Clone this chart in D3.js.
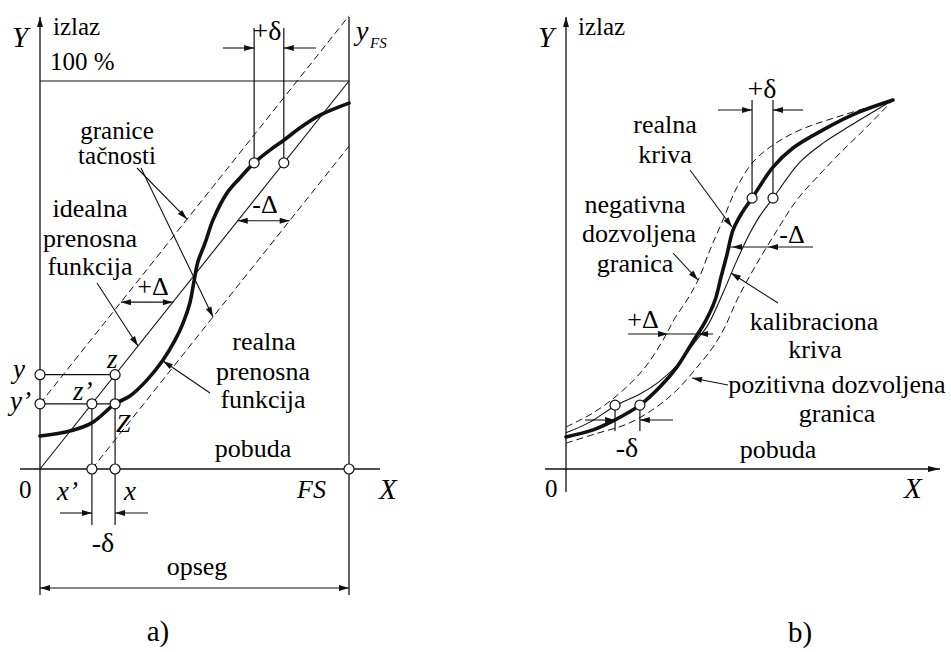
<!DOCTYPE html>
<html>
<head>
<meta charset="utf-8">
<script src="https://cdn.jsdelivr.net/npm/d3@7"></script>
</head>
<body style="margin:0">
<svg id="chart" width="951" height="652"></svg>
<script>
// ---------- Panel a: values in % of full scale (FS) ----------
const realCurveA = [
  [0, 8.5], [9.7, 9.8], [16.8, 11.9], [24.3, 16.8], [29.1, 18.8], [34.6, 22.9],
  [39.8, 28.1], [43.7, 33.2], [46.3, 37.6], [48.5, 42.8], [49.8, 48.2], [51.1, 53.4],
  [53.4, 58.2], [56.0, 64.2], [60.5, 71.1], [64.7, 75.0], [69.3, 78.9], [74.4, 82.2],
  [79.0, 84.8], [84.1, 87.9], [90.6, 91.2], [100, 94.3]
];
const idealLineA = [[0, 0], [100, 100]];
const accuracyBand = 16.8;          // +/- Delta band around the ideal line
const inputX = 24.3, inputXPrime = 16.8;   // x and x'
const outHigh = 78.9;               // output level of the +delta pair
const xHighReal = 69.3, xHighIdeal = 78.9;
const levelMinusDelta = 64, levelPlusDelta = 43;

// ---------- Panel b: values in % ----------
const realCurveB = [
  [0, 8.7], [8.3, 10.6], [15.0, 13.3], [22.6, 17.3], [28.7, 22.2], [33.9, 27.6],
  [38.5, 34.1], [42.5, 39.8], [45.6, 45.8], [47.4, 52.0], [49.2, 58.0], [51.1, 64.8],
  [53.8, 69.4], [56.9, 73.4], [63.3, 81.8], [69.4, 87.0], [78.6, 91.9], [89.0, 96.5], [100, 100]
];
const calibCurveB = [
  [0, 9.8], [7.3, 12.7], [15.0, 17.1], [22.6, 20.3], [28.7, 23.8], [34.9, 29.0],
  [39.4, 34.4], [43.4, 39.0], [48.0, 47.7], [52.3, 56.6], [56.3, 64.0], [59.3, 68.6],
  [63.3, 73.4], [71.6, 83.2], [78.6, 88.3], [86.9, 93.0], [100, 100]
];
const negLimitB = [
  [0, 11.4], [8.3, 15.2], [16.5, 20.6], [23.5, 26.8], [27.8, 32.2], [30.9, 36.9],
  [33.3, 40.9], [37.0, 45.8], [40.4, 51.2], [44.0, 59.3], [48.0, 67.5], [52.3, 76.4],
  [57.2, 83.2], [63.3, 87.8], [71.6, 91.9], [84.7, 95.9], [100, 100]
];
const posLimitB = [
  [0, 7.0], [8.9, 9.5], [18.7, 12.2], [27.2, 16.5], [33.9, 21.4], [40.1, 27.6],
  [45.0, 33.1], [48.6, 38.5], [52.3, 45.8], [57.2, 53.9], [63.3, 62.9], [70.6, 72.9],
  [76.8, 79.1], [83.8, 85.6], [92.0, 92.7], [100, 100]
];
const lowPairB = [[15.0, 17.3], [22.6, 17.3]];
const highPairB = [[56.9, 73.4], [63.3, 73.4]];

const svg = d3.select("#chart");
const K = "#111";

// scales
const xa = d3.scaleLinear([0, 100], [40, 349]);
const ya = d3.scaleLinear([0, 100], [469, 81]);
const xb = d3.scaleLinear([0, 100], [566, 893]);
const yb = d3.scaleLinear([0, 100], [469, 100]);

function line(g, x1, y1, x2, y2, w = 1.2) {
  return g.append("line").attr("x1", x1).attr("y1", y1).attr("x2", x2).attr("y2", y2)
    .attr("stroke", K).attr("stroke-width", w);
}
function head(g, x, y, deg, len = 10, half = 3) {
  g.append("path").attr("d", `M0,0L${-len},${-half}L${-len},${half}Z`)
    .attr("fill", K).attr("transform", `translate(${x},${y}) rotate(${deg})`);
}
function arrow(g, x1, y1, x2, y2) {
  line(g, x1, y1, x2, y2, 1.1);
  head(g, x2, y2, Math.atan2(y2 - y1, x2 - x1) * 180 / Math.PI);
}
// labels go straight on the svg; centred ones are shifted by their measured width
function label(x, y, t, size = 26, centred = true, italic = false) {
  const e = svg.append("text").attr("x", x).attr("y", y)
    .attr("font-family", "Liberation Serif").attr("font-size", size);
  if (italic) e.attr("font-style", "italic");
  e.text(t);
  if (centred) e.attr("x", x - e.node().getComputedTextLength() / 2);
  return e;
}
function dot(g, x, y) {
  g.append("circle").attr("cx", x).attr("cy", y).attr("r", 5)
    .attr("fill", "#fff").attr("stroke", K).attr("stroke-width", 1.2);
}

// ================= Panel a =================
const ga = svg.append("g");
const lineA = d3.line().x(d => xa(d[0])).y(d => ya(d[1]));

// frame and axes
line(ga, xa(0), 17, xa(0), 595, 1.3);
head(ga, xa(0), 17, -90, 10, 3);
line(ga, 20, ya(0), 380, ya(0), 1.3);
line(ga, xa(100), 17, xa(100), 595, 1.3);
line(ga, xa(0), ya(100), xa(100), ya(100), 1.2);

// ideal line and accuracy band
ga.append("path").attr("d", lineA(idealLineA)).attr("fill", "none").attr("stroke", K).attr("stroke-width", 1.1);
ga.append("path").attr("d", lineA([[0, accuracyBand], [100, 100 + accuracyBand]]))
  .attr("fill", "none").attr("stroke", K).attr("stroke-width", 1).attr("stroke-dasharray", "7,4");
ga.append("path").attr("d", lineA([[accuracyBand, 0], [100, 100 - accuracyBand]]))
  .attr("fill", "none").attr("stroke", K).attr("stroke-width", 1).attr("stroke-dasharray", "7,4");

// real transfer function
ga.append("path").attr("d", lineA.curve(d3.curveCatmullRom)(realCurveA))
  .attr("fill", "none").attr("stroke", K).attr("stroke-width", 3.6).attr("stroke-linecap", "round");
lineA.curve(d3.curveLinear);

// construction lines for y, y', z, z', Z
line(ga, xa(0), ya(inputX), xa(inputX), ya(inputX));
line(ga, xa(0), ya(inputXPrime), xa(inputX), ya(inputXPrime));
line(ga, xa(inputXPrime), ya(inputXPrime), xa(inputXPrime), 525);
line(ga, xa(inputX), ya(inputX), xa(inputX), 525);
arrow(ga, 60, 513, xa(inputXPrime), 513);
arrow(ga, 148, 513, xa(inputX), 513);

// +delta pair at the top
line(ga, xa(xHighReal), ya(outHigh), xa(xHighReal), 28);
line(ga, xa(xHighIdeal), ya(outHigh), xa(xHighIdeal), 28);
arrow(ga, 223, 48, xa(xHighReal), 48);
arrow(ga, 316, 48, xa(xHighIdeal), 48);

// -Delta and +Delta dimensions
{
  const y1 = ya(levelMinusDelta);
  line(ga, xa(levelMinusDelta), y1, xa(levelMinusDelta + accuracyBand), y1, 1.1);
  head(ga, xa(levelMinusDelta), y1, 180);
  head(ga, xa(levelMinusDelta + accuracyBand), y1, 0);
  const y2 = ya(levelPlusDelta);
  line(ga, xa(levelPlusDelta - accuracyBand), y2, xa(levelPlusDelta), y2, 1.1);
  head(ga, xa(levelPlusDelta - accuracyBand), y2, 180);
  head(ga, xa(levelPlusDelta), y2, 0);
}

// range dimension
line(ga, xa(0), 588, xa(100), 588, 1.1);
head(ga, xa(0), 588, 180);
head(ga, xa(100), 588, 0);

// leader lines
arrow(ga, 137, 168, xa(47.6), ya(47.6 + accuracyBand));
arrow(ga, 141, 168, xa(56), ya(56 - accuracyBand));
arrow(ga, 97, 283, xa(31.7), ya(31.7));
arrow(ga, 210, 393, 163, 361);

// points
[[0, inputX], [0, inputXPrime], [inputX, inputX], [inputXPrime, inputXPrime], [inputX, inputXPrime],
 [inputXPrime, 0], [inputX, 0], [100, 0], [xHighReal, outHigh], [xHighIdeal, outHigh]]
  .forEach(d => dot(ga, xa(d[0]), ya(d[1])));

// ================= Panel b =================
const gb = svg.append("g");
const lineB = d3.line().x(d => xb(d[0])).y(d => yb(d[1])).curve(d3.curveCatmullRom);

line(gb, xb(0), 17, xb(0), 492, 1.3);
head(gb, xb(0), 17, -90);
line(gb, 545, yb(0), 940, yb(0), 1.3);
head(gb, 940, yb(0), 0, 12, 3);

[negLimitB, posLimitB].forEach(c =>
  gb.append("path").attr("d", lineB(c)).attr("fill", "none").attr("stroke", K)
    .attr("stroke-width", 1).attr("stroke-dasharray", "7,4"));
gb.append("path").attr("d", lineB(calibCurveB)).attr("fill", "none").attr("stroke", K).attr("stroke-width", 1.1);
gb.append("path").attr("d", lineB(realCurveB)).attr("fill", "none").attr("stroke", K)
  .attr("stroke-width", 3.6).attr("stroke-linecap", "round");

// delta pairs
lowPairB.forEach(d => line(gb, xb(d[0]), yb(d[1]), xb(d[0]), 431));
highPairB.forEach(d => line(gb, xb(d[0]), yb(d[1]), xb(d[0]), 100));
arrow(gb, 585, 420, xb(lowPairB[0][0]), 420);
arrow(gb, 673, 420, xb(lowPairB[1][0]), 420);
arrow(gb, 718, 110, xb(highPairB[0][0]), 110);
arrow(gb, 803, 110, xb(highPairB[1][0]), 110);

// +Delta / -Delta marks
line(gb, 628, 334, 713, 334, 1.1);
head(gb, 668, 334, 0);
head(gb, 698, 334, 180);
line(gb, 730, 247, 813, 247, 1.1);
head(gb, 732, 247, 180);
head(gb, 768, 247, 180);

// leaders
arrow(gb, 690, 170, 732, 227);
arrow(gb, 673, 253, 698, 280);
arrow(gb, 778, 303, 731, 273);
arrow(gb, 728, 385, 692, 378);

[...lowPairB, ...highPairB].forEach(d => dot(gb, xb(d[0]), yb(d[1])));

// ================= Texts =================
// panel a
label(12, 47, "Y", 29, false, true);
label(53, 35, "izlaz", 25, false);
label(50, 70, "100 %", 25, false);
label(267, 40, "+δ", 28);
label(356, 40, "y", 28, false, true);
label(370, 48, "FS", 15, false, true);
label(117, 139, "granice", 25);
label(117, 164, "tačnosti", 25);
label(90, 217, "idealna", 26);
label(90, 247, "prenosna", 26);
label(90, 275, "funkcija", 26);
label(265, 213, "-Δ", 26);
label(153, 295, "+Δ", 26);
label(264, 350, "realna", 26);
label(263, 380, "prenosna", 26);
label(263, 408, "funkcija", 26);
label(13, 378, "y", 27, false, true);
label(10, 410, "y’", 27, false, true);
label(107, 368, "z", 27, false, true);
label(73, 400, "z’", 27, false, true);
label(116, 432, "Z", 26, false, true);
label(253, 457, "pobuda", 26);
label(19, 498, "0", 25, false);
label(57, 500, "x’", 27, false, true);
label(124, 500, "x", 27, false, true);
label(297, 498, "FS", 26, false, true);
label(379, 499, "X", 29, false, true);
label(103, 552, "-δ", 28);
label(197, 575, "opseg", 26);
label(158, 641, "a)", 29);
// panel b
label(538, 47, "Y", 29, false, true);
label(578, 35, "izlaz", 25, false);
label(762, 98, "+δ", 28);
label(665, 133, "realna", 26);
label(665, 163, "kriva", 26);
label(635, 213, "negativna", 26);
label(639, 242, "dozvoljena", 26);
label(635, 272, "granica", 26);
label(792, 243, "-Δ", 26);
label(643, 328, "+Δ", 26);
label(814, 330, "kalibraciona", 26);
label(815, 358, "kriva", 26);
label(837, 393, "pozitivna dozvoljena", 26);
label(837, 422, "granica", 26);
label(627, 457, "-δ", 28);
label(778, 458, "pobuda", 26);
label(545, 497, "0", 25, false);
label(904, 498, "X", 29, false, true);
label(800, 642, "b)", 29);
</script>
</body>
</html>
